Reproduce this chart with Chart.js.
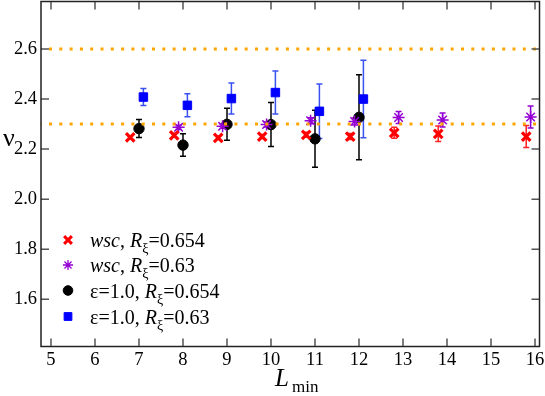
<!DOCTYPE html>
<html>
<head>
<meta charset="utf-8">
<script src="https://cdn.jsdelivr.net/npm/chart.js@4/dist/chart.umd.min.js"></script>
<style>
  html, body { margin: 0; padding: 0; background: #fff; }
  #wrap { width: 545px; height: 396px; position: relative; }
</style>
</head>
<body>
<div id="wrap"><canvas id="nuChart"></canvas></div>
<script>
// wsc, R_xi = 0.654 (red crosses)
const lRed = [6.8, 7.8, 8.8, 9.8, 10.8, 11.8, 12.8, 13.8, 15.8];
const nuRed = [2.247, 2.255, 2.245, 2.25, 2.257, 2.25, 2.265, 2.261, 2.25];
const errRed = [0.006, 0.008, 0.007, 0.008, 0.01, 0.012, 0.022, 0.031, 0.044];

// wsc, R_xi = 0.63 (violet stars)
const lViolet = [7.9, 8.9, 9.9, 10.9, 11.9, 12.9, 13.9, 15.9];
const nuViolet = [2.287, 2.291, 2.298, 2.313, 2.31, 2.326, 2.316, 2.328];
const errViolet = [0.008, 0.008, 0.01, 0.012, 0.014, 0.024, 0.028, 0.044];

// eps = 1.0, R_xi = 0.654 (black circles)
const lBlack = [7, 8, 9, 10, 11, 12];
const nuBlack = [2.282, 2.216, 2.299, 2.298, 2.241, 2.327];
const errBlack = [0.036, 0.045, 0.064, 0.088, 0.114, 0.17];

// eps = 1.0, R_xi = 0.63 (blue squares)
const lBlue = [7.1, 8.1, 9.1, 10.1, 11.1, 12.1];
const nuBlue = [2.408, 2.375, 2.402, 2.426, 2.351, 2.4];
const errBlue = [0.034, 0.046, 0.062, 0.086, 0.109, 0.155];

// reference lines
const refLevels = [2.6, 2.3];

// axes
const xMin = 4.773, xMax = 16.102;
const yMin = 1.411, yMax = 2.79;
const xTicks = [5, 6, 7, 8, 9, 10, 11, 12, 13, 14, 15, 16];
const yTicks = [1.6, 1.8, 2.0, 2.2, 2.4, 2.6];

const SERIF = '"Liberation Serif", "Times New Roman", serif';

function toPoints(xs, ys) {
    return xs.map((x, i) => ({ x: x, y: ys[i] }));
}

const seriesList = [
    { label: 'wsc, R=0.654', xs: lRed, ys: nuRed, err: errRed, color: '#ff0000', barColor: '#ff2020',
      style: 'crossRot', radius: 6, width: 3.2 },
    { label: 'wsc, R=0.63', xs: lViolet, ys: nuViolet, err: errViolet, color: '#9400d3', barColor: '#9400d3',
      style: 'star', radius: 6, width: 1.5 },
    { label: 'eps=1.0, R=0.654', xs: lBlack, ys: nuBlack, err: errBlack, color: '#000000', barColor: '#000000',
      style: 'circle', radius: 5.2, width: 1 },
    { label: 'eps=1.0, R=0.63', xs: lBlue, ys: nuBlue, err: errBlue, color: '#0000ff', barColor: '#3a50f0',
      style: 'rect', radius: 6, width: 1 }
];

// error bars under the markers
const errorBarPlugin = {
    id: 'errorBars',
    beforeDatasetsDraw(chart) {
        const ctx = chart.ctx;
        const xs = chart.scales.x, ys = chart.scales.y;
        ctx.save();
        seriesList.forEach(s => {
            ctx.strokeStyle = s.barColor;
            ctx.lineWidth = 1.5;
            s.xs.forEach((lx, i) => {
                const px = xs.getPixelForValue(lx);
                const top = ys.getPixelForValue(s.ys[i] + s.err[i]);
                const bot = ys.getPixelForValue(s.ys[i] - s.err[i]);
                ctx.beginPath();
                ctx.moveTo(px, top); ctx.lineTo(px, bot);
                ctx.moveTo(px - 3, top); ctx.lineTo(px + 3, top);
                ctx.moveTo(px - 3, bot); ctx.lineTo(px + 3, bot);
                ctx.stroke();
            });
        });
        ctx.restore();
    }
};

// frame, inward ticks, axis titles and legend
const framePlugin = {
    id: 'frame',
    afterDraw(chart) {
        const ctx = chart.ctx;
        const a = chart.chartArea;
        const xs = chart.scales.x, ys = chart.scales.y;
        ctx.save();

        ctx.strokeStyle = '#555';
        ctx.lineWidth = 1.5;
        ctx.beginPath();
        xTicks.forEach(v => {
            const px = xs.getPixelForValue(v);
            ctx.moveTo(px, a.bottom); ctx.lineTo(px, a.bottom - 8);
            ctx.moveTo(px, a.top); ctx.lineTo(px, a.top + 8);
        });
        yTicks.forEach(v => {
            const py = ys.getPixelForValue(v);
            ctx.moveTo(a.left, py); ctx.lineTo(a.left + 8, py);
            ctx.moveTo(a.right, py); ctx.lineTo(a.right - 8, py);
        });
        ctx.stroke();

        ctx.strokeStyle = '#222';
        ctx.lineWidth = 1.5;
        ctx.strokeRect(a.left, a.top, a.right - a.left, a.bottom - a.top);

        // x title: L_min
        ctx.fillStyle = '#000';
        ctx.textBaseline = 'alphabetic';
        ctx.textAlign = 'left';
        ctx.font = 'italic 25px ' + SERIF;
        ctx.fillText('L', 275, 386);
        ctx.font = '17px ' + SERIF;
        ctx.fillText('min', 292, 392);

        // y title: nu
        ctx.font = '26px ' + SERIF;
        ctx.fillText('\u03bd', 3, 146);

        // legend
        const rows = [
            { parts: [['italic', 'wsc'], ['', ', ']], value: '=0.654' },
            { parts: [['italic', 'wsc'], ['', ', ']], value: '=0.63' },
            { parts: [['', '\u03b5=1.0, ']], value: '=0.654' },
            { parts: [['', '\u03b5=1.0, ']], value: '=0.63' }
        ];
        const rowY = [240, 265, 290.5, 316.5];
        const legendMarks = [
            { r: 5.5, w: 3 }, { r: 5, w: 1.3 }, { r: 4.8, w: 1 }, { r: 5.5, w: 1 }
        ];
        rows.forEach((r, i) => {
            const s = seriesList[i];
            const cy = rowY[i];
            ctx.save();
            ctx.fillStyle = s.color;
            ctx.strokeStyle = s.color;
            ctx.lineWidth = legendMarks[i].w;
            Chart.helpers.drawPoint(ctx, {
                pointStyle: s.style, radius: legendMarks[i].r, borderWidth: legendMarks[i].w, rotation: 0
            }, 68, cy);
            ctx.restore();

            let x = 90;
            const base = cy + 7;
            ctx.fillStyle = '#000';
            r.parts.forEach(p => {
                ctx.font = (p[0] ? p[0] + ' ' : '') + '20px ' + SERIF;
                ctx.fillText(p[1], x, base);
                x += ctx.measureText(p[1]).width;
            });
            ctx.font = 'italic 20px ' + SERIF;
            ctx.fillText('R', x, base);
            x += ctx.measureText('R').width;
            ctx.font = '14px ' + SERIF;
            ctx.fillText('\u03be', x, base + 6);
            x += ctx.measureText('\u03be').width;
            ctx.font = '20px ' + SERIF;
            ctx.fillText(r.value, x, base);
        });
        ctx.restore();
    }
};

const datasets = seriesList.map(s => ({
    label: s.label,
    data: toPoints(s.xs, s.ys),
    showLine: false,
    pointStyle: s.style,
    pointRadius: s.radius,
    pointHoverRadius: s.radius,
    pointBorderWidth: s.width,
    borderColor: s.color,
    backgroundColor: s.color,
    order: 2
}));

refLevels.forEach(v => {
    datasets.push({
        label: 'ref ' + v,
        data: [{ x: xMin, y: v }, { x: xMax, y: v }],
        showLine: true,
        borderColor: '#ffa500',
        borderWidth: 3,
        borderDash: [3, 7.3],
        borderDashOffset: -8,
        borderCapStyle: 'butt',
        pointRadius: 0,
        fill: false,
        order: 0
    });
});

new Chart(document.getElementById('nuChart'), {
    type: 'scatter',
    data: { datasets: datasets },
    options: {
        responsive: true,
        maintainAspectRatio: false,
        animation: false,
        layout: { autoPadding: false, padding: { left: 0, top: 1.5, right: 5.5, bottom: 0 } },
        plugins: { legend: { display: false }, tooltip: { enabled: false } },
        scales: {
            x: {
                type: 'linear',
                min: xMin, max: xMax,
                grid: { display: false, drawTicks: false },
                border: { display: false },
                afterBuildTicks: s => { s.ticks = xTicks.map(v => ({ value: v })); },
                afterFit: s => { s.height = 49.5; s.paddingLeft = 0; s.paddingRight = 0; },
                ticks: {
                    color: '#000',
                    padding: 3,
                    maxRotation: 0,
                    font: { family: SERIF, size: 18.5 },
                    callback: v => String(v)
                }
            },
            y: {
                type: 'linear',
                min: yMin, max: yMax,
                grid: { display: false, drawTicks: false },
                border: { display: false },
                afterBuildTicks: s => { s.ticks = yTicks.map(v => ({ value: v })); },
                afterFit: s => { s.width = 41; s.paddingTop = 0; s.paddingBottom = 0; },
                ticks: {
                    color: '#000',
                    padding: 4,
                    font: { family: SERIF, size: 18.5 },
                    callback: v => v.toFixed(1)
                }
            }
        }
    },
    plugins: [errorBarPlugin, framePlugin]
});
</script>
</body>
</html>
